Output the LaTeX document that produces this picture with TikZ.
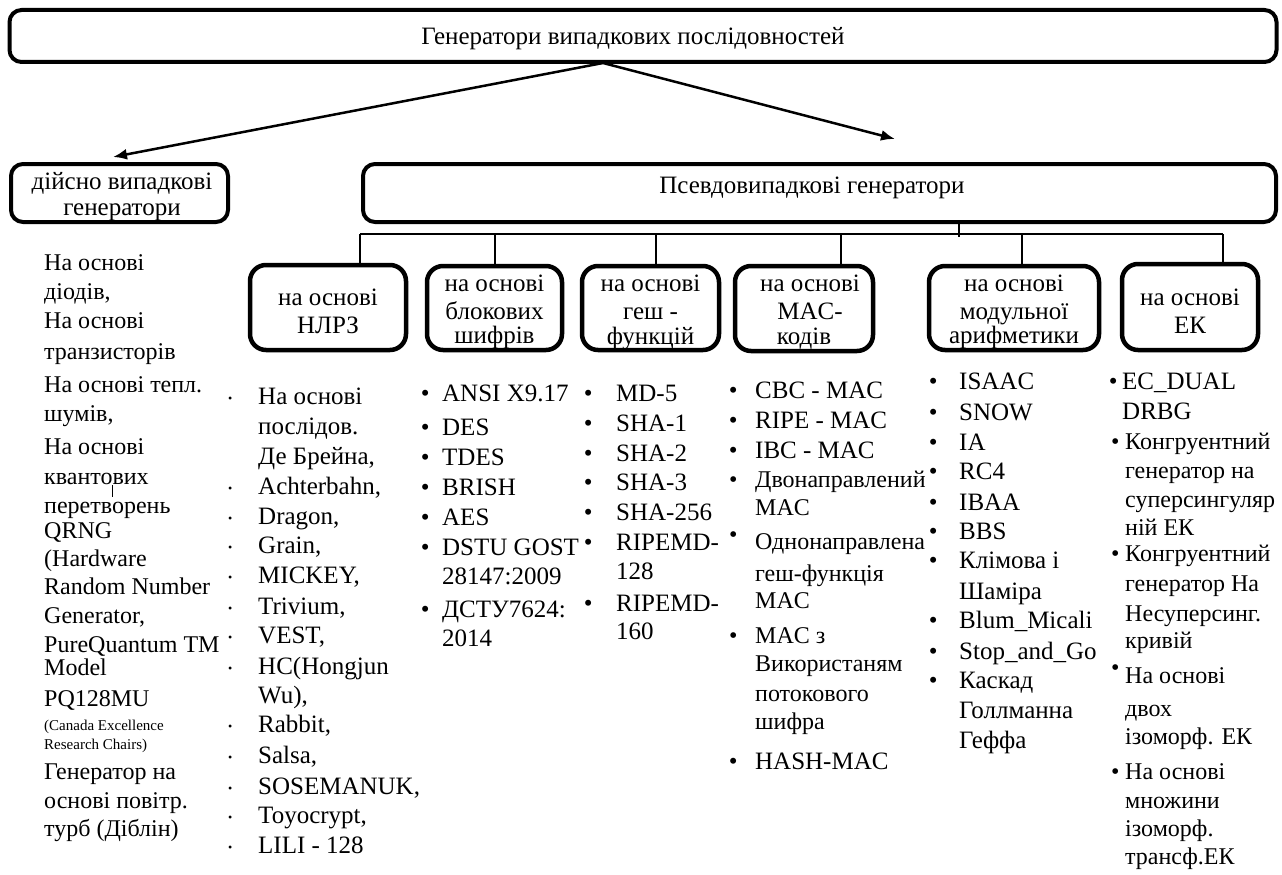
\documentclass[tikz,border=0pt]{standalone}
\usepackage{fontspec}
\setmainfont{Liberation Serif}
\usetikzlibrary{arrows.meta}
\newcommand\bu[2][0pt]{\llap{\makebox[#2][c]{\raisebox{#1}{•}}}}
\newcommand\sbu[1]{\llap{\makebox[#1][c]{\raisebox{2pt}{\fontsize{12}{12}\selectfont •}}}}
\begin{document}
\begin{tikzpicture}[x=1pt,y=-1pt,
  bigbox/.style={draw, line width=4pt, rounded corners=12pt, inner sep=0pt},
  subbox/.style={draw, line width=4.5pt, rounded corners=16pt, inner sep=0pt},
  subtxt/.style={inner sep=0pt, align=center, yshift=-4pt, font=\fontsize{25}{28}\selectfont},
  boxtxt/.style={inner sep=0pt, align=center, font=\fontsize{25}{26}\selectfont},
  txt/.style={inner sep=0pt, anchor=mid west, yshift=-4pt, font=\fontsize{25}{30}\selectfont},
  mtxt/.style={txt, font=\fontsize{24}{29}\selectfont},
  ltxt/.style={txt, font=\fontsize{24}{29}\selectfont},
  stxt/.style={txt, font=\fontsize{15}{18}\selectfont},
  conn/.style={line width=2pt},
  arr/.style={line width=2.5pt, -{Latex[length=14pt,width=11pt]}}
]
\useasboundingbox (0,0) rectangle (1282,875);

% big boxes
\node[bigbox, minimum width=1267pt, minimum height=52pt] (top) at (643,36) {};
\node[boxtxt] (ttl) at (633,39) {Генератори випадкових послідовностей};
\node[bigbox, minimum width=217pt, minimum height=58pt] (tr) at (119.5,193) {};
\node[boxtxt] (trt) at (122,197) {дійсно випадкові\\генератори};
\node[bigbox, minimum width=913pt, minimum height=58pt] (pg) at (819.5,193) {};
\node[boxtxt] (pgt) at (812,188) {Псевдовипадкові генератори};

% arrows
\coordinate (split) at (603,63);
\coordinate (tipL) at (113,157);
\coordinate (tipR) at (895,139);
\draw[arr] (split) -- (tipL);
\draw[arr] (split) -- (tipR);

% sub boxes
\node[subbox, minimum width=156pt, minimum height=85pt] (b1) at (328,307.5) {};
\node[subtxt] (b1t) at (b1) {на основі\\НЛРЗ};
\node[subbox, minimum width=135pt, minimum height=84pt] (b2) at (494.5,308) {};
\node[subtxt] (b2t) at (b2) {на основі\\блокових\\[-4pt]шифрів};
\node[subbox, minimum width=137pt, minimum height=84pt] (b3) at (650.5,308) {};
\node[subtxt] (b3t) at (b3) {на основі\\геш -\\[-3pt]функцій};
\node[subbox, minimum width=138pt, minimum height=85pt] (b4) at (804,308.5) {};
\node[subtxt] (b4t) at (b4) {\hspace*{12pt}на основі\\\hspace*{12pt}MAC-\\[-3pt]кодів};
\node[subbox, minimum width=170pt, minimum height=84pt] (b5) at (1014,308) {};
\node[subtxt] (b5t) at (b5) {на основі\\модульної\\[-4pt]арифметики};
\node[subbox, minimum width=136pt, minimum height=86pt] (b6) at (1190,307) {};
\node[subtxt] (b6t) at (b6) {на основі\\ЕК};

% bus connectors
\coordinate (d1) at (360,234);
\coordinate (d2) at (495,234);
\coordinate (d3) at (656,234);
\coordinate (d4) at (841,234);
\coordinate (d5) at (1022,234);
\coordinate (d6) at (1223,234);
\coordinate (stub) at (959,237);
\draw[conn] (d1) -- (d6);
\draw[conn] (stub |- pg.south) -- (stub);
\draw[conn] (d1) -- (d1 |- b1.north);
\draw[conn] (d2) -- (d2 |- b2.north);
\draw[conn] (d3) -- (d3 |- b3.north);
\draw[conn] (d4) -- (d4 |- b4.north);
\draw[conn] (d5) -- (d5 |- b5.north);
\draw[conn] (d6) -- (d6 |- b6.north);

% left column
\foreach \y/\t in {264/{На основі}, 293/{діодів,}, 322/{На основі}, 353/{транзисторів},
  386/{На основі тепл.}, 415/{шумів,}, 448/{На основі}, 478/{квантових}, 507/{перетворень},
  532/{QRNG}, 560/{(Hardware}, 588/{Random Number}, 617/{Generator,}, 646/{PureQuantum TM},
  669/{Model}, 700/{PQ128MU}, 773/{Генератор на}, 802/{основі повітр.}, 830/{турб (Діблін)}}
  \node[ltxt] (l\y) at (44,\y) {\t};
\node[stxt] (l724) at (44,724) {(Canada Excellence};
\node[stxt] (l743) at (44,743) {Research Chairs)};
\draw[line width=1pt] (112,485) -- (112,497);

% NLRZ column
\foreach \y/\t in {398/{\sbu{56pt}На основі}, 428/{послідов.}, 458/{Де Брейна,},
  488/{\sbu{56pt}Achterbahn,}, 518/{\sbu{56pt}Dragon,}, 547/{\sbu{56pt}Grain,},
  577/{\sbu{56pt}MICKEY,}, 608/{\sbu{56pt}Trivium,}, 637/{\sbu{56pt}VEST,},
  668/{\sbu{56pt}HC(Hongjun}, 697/{Wu),}, 726/{\sbu{56pt}Rabbit,}, 757/{\sbu{56pt}Salsa,},
  788/{\sbu{56pt}SOSEMANUK,}, 817/{\sbu{56pt}Toyocrypt,}, 847/{\sbu{56pt}LILI - 128}}
  \node[txt] (n\y) at (258,\y) {\t};

% block ciphers column
\foreach \y/\t in {395/{\bu{34pt}ANSI X9.17}, 429/{\bu{34pt}DES}, 459/{\bu{34pt}TDES},
  489/{\bu{34pt}BRISH}, 519/{\bu{34pt}AES}, 549/{\bu{34pt}DSTU GOST}, 578/{28147:2009},
  611/{\bu{34pt}ДСТУ7624:}, 640/{2014}}
  \node[txt] (k\y) at (442,\y) {\t};

% hash column
\foreach \y/\t in {395/{\bu{56pt}MD-5}, 425/{\bu{56pt}SHA-1}, 455/{\bu{56pt}SHA-2},
  484/{\bu{56pt}SHA-3}, 514/{\bu{56pt}SHA-256}, 544/{\bu{56pt}RIPEMD-}, 573/{128},
  605/{\bu{56pt}RIPEMD-}, 633/{160}}
  \node[txt] (h\y) at (616,\y) {\t};

% MAC column
\foreach \y/\t in {392/{\bu{44pt}CBC - MAC}, 422/{\bu{44pt}RIPE - MAC}, 452/{\bu{44pt}IBC - MAC},
  763/{\bu{44pt}HASH-MAC}}
  \node[txt] (m\y) at (755,\y) {\t};
\foreach \y/\t in {481/{\bu{44pt}Двонаправлений}, 509/{MAC}, 543/{\bu[7pt]{44pt}Однонаправлена},
  575/{геш-функція}, 602/{MAC}, 637/{\bu{44pt}MAC з}, 665/{Використаням}, 695/{потокового},
  723/{шифра}}
  \node[mtxt] (m\y) at (755,\y) {\t};

% modular arithmetic column
\foreach \y/\t in {383/{\bu{52pt}ISAAC}, 414/{\bu{52pt}SNOW}, 444/{\bu{52pt}IA},
  473/{\bu{52pt}RC4}, 504/{\bu{52pt}IBAA}, 533/{\bu{52pt}BBS}, 562/{\bu{52pt}Клімова і},
  593/{Шаміра}, 622/{\bu{52pt}Blum\_Micali}, 653/{\bu{52pt}Stop\_and\_Go},
  682/{\bu{52pt}Каскад}, 712/{Голлманна}, 742/{Геффа}}
  \node[txt] (r\y) at (959,\y) {\t};

% EC column
\node[txt] (e383) at (1122,383) {\bu{18pt}EC\_DUAL};
\node[txt] (e413) at (1122,413) {DRBG};
\foreach \y/\t in {443/{\bu{20pt}Конгруентний}, 472/{генератор на}, 501/{суперсингуляр},
  529/{ній ЕК}, 555/{\bu{20pt}Конгруентний}, 585/{генератор На}, 615/{Несуперсинг.},
  642/{кривій}, 677/{\bu[8pt]{20pt}На основі}, 710/{двох}, 738/{ізоморф. ЕК},
  773/{\bu{20pt}На основі}, 802/{множини}, 830/{ізоморф.}, 858/{трансф.ЕК}}
  \node[mtxt] (e\y) at (1125,\y) {\t};
\end{tikzpicture}
\end{document}
